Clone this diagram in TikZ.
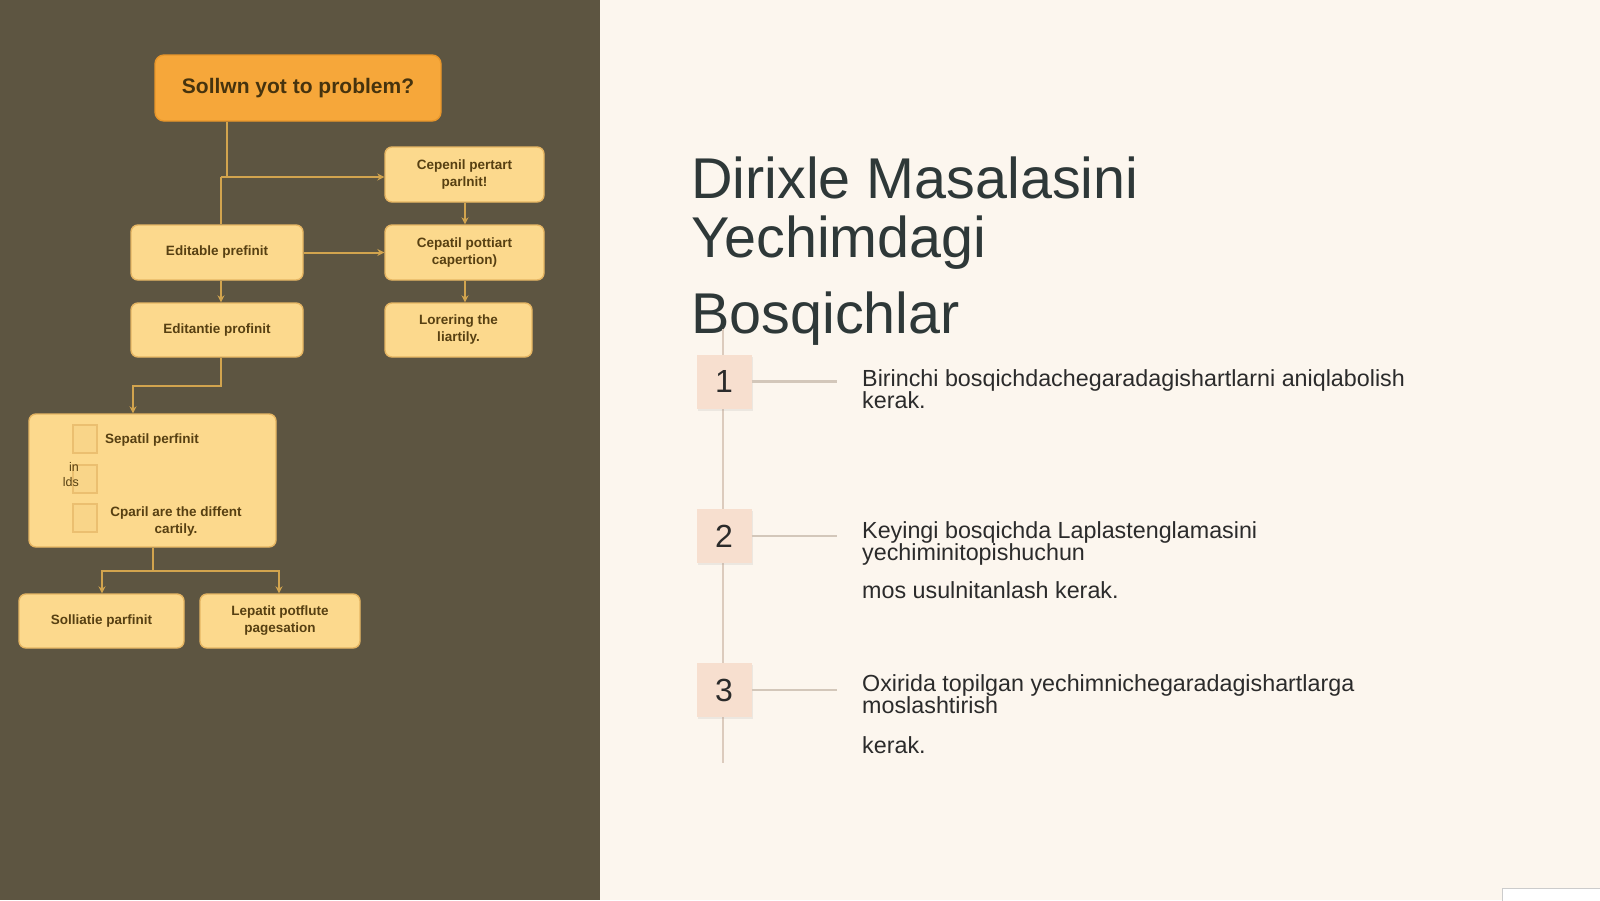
\documentclass[tikz,border=0pt]{standalone}
\usepackage{fontspec}
\setmainfont{Liberation Sans}
\usetikzlibrary{arrows.meta,shadows}
\definecolor{panel}{HTML}{5D5541}
\definecolor{paper}{HTML}{FCF6EE}
\definecolor{orangebox}{HTML}{F6A73A}
\definecolor{orangeedge}{HTML}{E8962A}
\definecolor{yelbox}{HTML}{FCD98D}
\definecolor{yeledge}{HTML}{E6B663}
\definecolor{boxtext}{HTML}{574012}
\definecolor{wire}{HTML}{D2A44E}
\definecolor{sqfill}{HTML}{F9D589}
\definecolor{sqedge}{HTML}{EBBF70}
\definecolor{titlecol}{HTML}{2E3838}
\definecolor{stepcol}{HTML}{2B2B2B}
\definecolor{numfill}{HTML}{F7DFCF}
\definecolor{tline}{HTML}{DCCBBD}
\definecolor{hline}{HTML}{D3C7BA}
\begin{document}
\begin{tikzpicture}[x=1pt,y=-1pt,
  fbox/.style={draw=yeledge,line width=1.4pt,fill=yelbox,rounded corners=7pt,
    text=boxtext,font=\bfseries\fontsize{13.5}{17}\selectfont,align=center,inner sep=2pt},
  topbox/.style={draw=orangeedge,line width=1.4pt,fill=orangebox,rounded corners=9pt,
    text=boxtext!80!black,font=\bfseries\fontsize{21}{24}\selectfont,inner sep=2pt},
  sqbox/.style={draw=sqedge,line width=1.2pt,fill=sqfill,minimum width=24pt,minimum height=28pt,inner sep=0pt},
  wireln/.style={draw=wire,line width=2pt},
  arr/.style={wireln,-{Stealth[length=7pt,width=7pt]}},
  numbox/.style={fill=numfill,minimum width=55pt,minimum height=54pt,inner sep=0pt,
    text=stepcol,font=\fontsize{32}{32}\selectfont,
    drop shadow={opacity=0.12,shadow xshift=1.5pt,shadow yshift=-2pt}},
  steptext/.style={anchor=base west,inner sep=0pt,text=stepcol,font=\fontsize{23.3}{23}\selectfont},
  titletext/.style={anchor=base west,inner sep=0pt,text=titlecol,font=\fontsize{57.5}{57}\selectfont}
]
\useasboundingbox (0,0) rectangle (1600,900);
% backgrounds
\fill[paper] (0,0) rectangle (1600,900);
\fill[panel] (0,0) rectangle (600,900);

% ---------- flowchart ----------
\node[topbox,minimum width=286pt,minimum height=66pt] (top) at (298,88) {Sollwn yot to problem?};
\node[fbox,minimum width=159pt,minimum height=55pt] (cep1) at (464.5,174.5) {Cepenil pertart\\parlnit!};
\node[fbox,minimum width=172pt,minimum height=55pt] (edit1) at (217,252.5) {Editable prefinit};
\node[fbox,minimum width=159pt,minimum height=55pt] (cep2) at (464.5,252.5) {Cepatil pottiart\\capertion)};
\node[fbox,minimum width=172pt,minimum height=54pt] (edit2) at (217,330) {Editantie profinit};
\node[fbox,minimum width=147pt,minimum height=54pt] (lor) at (458.5,330) {Lorering the\\liartily.};
\node[fbox,minimum width=247pt,minimum height=133pt] (big) at (152.5,480.5) {};
\node[fbox,minimum width=165pt,minimum height=54pt] (sol) at (101.5,621) {Solliatie parfinit};
\node[fbox,minimum width=160pt,minimum height=54pt] (lep) at (280,621) {Lepatit potflute\\pagesation};

% contents of the big box
\node[sqbox] (sq1) at (85,439) {};
\node[sqbox] (sq2) at (85,479) {};
\node[sqbox] (sq3) at (85,518) {};
\node[anchor=west,inner sep=0pt,text=boxtext,font=\bfseries\fontsize{13.5}{17}\selectfont] (s1t) at (105,440) {Sepatil perfinit};
\node[anchor=east,inner sep=0pt,align=right,text=boxtext,font=\fontsize{12.5}{15}\selectfont] (s2t) at (79,475) {in\\lds};
\node[inner sep=0pt,align=center,text=boxtext,font=\bfseries\fontsize{13.5}{17}\selectfont] (s3t) at (176,521) {Cparil are the diffent\\cartily.};

% connectors
\coordinate (j0) at (227,177);
\coordinate (j1) at (221,177);
\draw[wireln] (top.south -| j0) -- (j0) -- (j1);
\draw[arr] (j1) -- (cep1.west |- j1);
\draw[wireln] (j1) -- (edit1.north -| j1);
\draw[arr] (cep1.south -| 465,0) -- (cep2.north -| 465,0);
\draw[arr] (edit1.east) -- (cep2.west);
\draw[arr] (edit1.south -| j1) -- (edit2.north -| j1);
\draw[arr] (cep2.south -| 465,0) -- (lor.north -| 465,0);
\coordinate (k1) at (221,386);
\coordinate (k2) at (133,386);
\draw[arr] (edit2.south -| k1) -- (k1) -- (k2) -- (big.north -| k2);
\coordinate (m0) at (153,571);
\coordinate (m1) at (102,571);
\coordinate (m2) at (279,571);
\draw[wireln] (big.south -| m0) -- (m0);
\draw[arr] (m0) -- (m1) -- (sol.north -| m1);
\draw[arr] (m0) -- (m2) -- (lep.north -| m2);

% ---------- right side ----------
\node[titletext] (t1) at (691,198) {Dirixle Masalasini};
\node[titletext] (t2) at (691,257) {Yechimdagi};
\node[titletext] (t3) at (691,333) {Bosqichlar};

\coordinate (vtop) at (723,329);
\coordinate (vbot) at (723,763);
\draw[tline,line width=2.2pt] (vtop) -- (vbot);

\node[numbox] (n1) at (724,381.5) {1};
\node[numbox] (n2) at (724,536) {2};
\node[numbox] (n3) at (724,690) {3};
\coordinate (h1) at (837,381.5);
\coordinate (h2) at (837,536);
\coordinate (h3) at (837,690);
\draw[hline,line width=2.4pt] (n1.east) -- (h1);
\draw[hline,line width=2.4pt] (n2.east) -- (h2);
\draw[hline,line width=2.4pt] (n3.east) -- (h3);

\node[steptext] (a1) at (862,386) {Birinchi bosqichdachegaradagishartlarni aniqlabolish};
\node[steptext] (a2) at (862,408) {kerak.};
\node[steptext] (b1) at (862,538) {Keyingi bosqichda Laplastenglamasini};
\node[steptext] (b2) at (862,560) {yechiminitopishuchun};
\node[steptext] (b3) at (862,598) {mos usulnitanlash kerak.};
\node[steptext] (c1) at (862,691) {Oxirida topilgan yechimnichegaradagishartlarga};
\node[steptext] (c2) at (862,713) {moslashtirish};
\node[steptext] (c3) at (862,753) {kerak.};

% small corner element
\node[draw=black!20,fill=white,minimum width=98pt,minimum height=14pt,inner sep=0pt,anchor=north west] (corner) at (1502,888) {};
\end{tikzpicture}
\end{document}
